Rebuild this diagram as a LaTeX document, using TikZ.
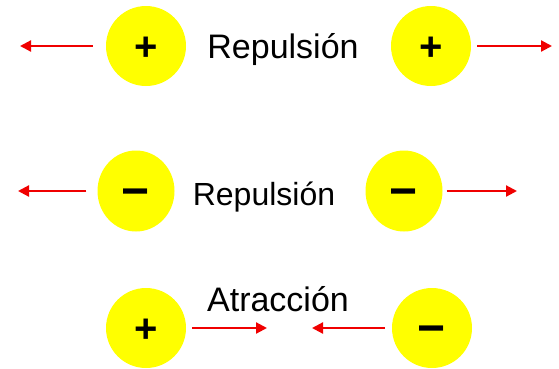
\documentclass[tikz,border=0pt]{standalone}
\usepackage{fontspec}
\setmainfont{Liberation Sans}
\usetikzlibrary{arrows.meta, shapes.geometric}
\definecolor{chargefill}{RGB}{255,255,0}
\definecolor{forcered}{RGB}{240,0,0}

\begin{document}
\begin{tikzpicture}[x=1pt, y=-1pt,
    charge/.style={circle, fill=chargefill, minimum size=80pt, inner sep=0pt,
        text height=28pt, text depth=0pt, font=\fontsize{40}{40}\bfseries},
    neg/.style={charge, text height=33.6pt, font=\fontsize{48}{48}\bfseries},
    force/.style={draw=forcered, line width=2.2pt,
        -{Triangle[length=11pt, width=11pt]}},
    law/.style={anchor=base, font=\fontsize{34}{34}\selectfont}]

    \useasboundingbox (0, 0) rectangle (559, 368);

    % two positive charges
    \node[charge] (p1) at (146, 46) {+};
    \node[charge] (p2) at (431, 46) {+};
    \node[law] (t1) at (283, 58) {Repulsión};
    \coordinate (e1) at (20, 46);
    \coordinate (e2) at (552, 46);
    \draw[force, shorten <=13pt] (p1.west) -- (e1);
    \draw[force, shorten <=6pt] (p2.east) -- (e2);

    % two negative charges
    \node[neg, ellipse, minimum width=77pt, minimum height=81pt] (m1) at (136, 191) {−};
    \node[neg, ellipse, minimum width=77pt, minimum height=81pt] (m2) at (404, 191) {−};
    \node[law, font=\fontsize{32}{32}\selectfont] (t2) at (264, 205) {Repulsión};
    \coordinate (e3) at (18, 191);
    \coordinate (e4) at (517, 191);
    \draw[force, shorten <=11pt] (m1.west) -- (e3);
    \draw[force, shorten <=4pt] (m2.east) -- (e4);

    % opposite charges
    \node[charge] (p3) at (146, 328) {+};
    \node[neg] (m3) at (432, 328) {−};
    \node[law] (t3) at (278, 311) {Atracción};
    \coordinate (e5) at (267, 328);
    \coordinate (e6) at (312, 328);
    \draw[force, shorten <=6pt] (p3.east) -- (e5);
    \draw[force, shorten <=7pt] (m3.west) -- (e6);

\end{tikzpicture}
\end{document}
